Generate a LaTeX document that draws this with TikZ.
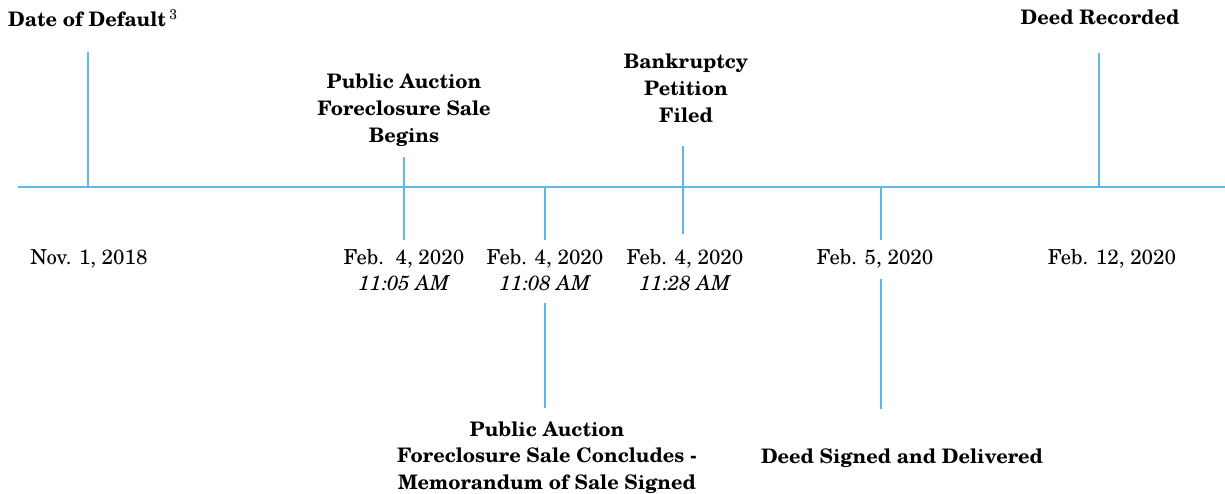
\documentclass[tikz,border=0pt]{standalone}
\usepackage{fontspec}
\setmainfont{TeX Gyre Schola}
\definecolor{tlblue}{RGB}{95,185,230}
\newcommand\tlfs{\fontsize{20}{26.7}\selectfont}
\newcommand\tldfs{\fontsize{20.6}{25}\selectfont}
\newcommand\tlstack[1]{\begin{tabular}[t]{@{}c@{}}#1\end{tabular}}
\tikzset{
  axisline/.style={draw=tlblue, line width=1.6pt},
  tickline/.style={draw=tlblue, line width=1.6pt},
  evtlabel/.style={font=\tlfs\bfseries, inner sep=0pt, anchor=base},
  datelabel/.style={font=\tldfs, inner sep=0pt, anchor=base},
}
\begin{document}
\begin{tikzpicture}[x=1pt,y=-1pt]
\useasboundingbox (0,0) rectangle (1225,494);
% axis
\coordinate (axL) at (18,187);
\coordinate (axR) at (1225,187);
\draw[axisline] (axL) -- (axR);
% tick coordinates
\coordinate (t1a) at (88,52);    \coordinate (t1b) at (88,187);
\coordinate (t2a) at (404,157);  \coordinate (t2b) at (404,240);
\coordinate (t3a) at (545,187);  \coordinate (t3b) at (545,240);
\coordinate (t3c) at (545,303);  \coordinate (t3d) at (545,408);
\coordinate (t4a) at (683,146);  \coordinate (t4b) at (683,234);
\coordinate (t5a) at (881,187);  \coordinate (t5b) at (881,240);
\coordinate (t5c) at (881,279);  \coordinate (t5d) at (881,409);
\coordinate (t6a) at (1099,53);  \coordinate (t6b) at (1099,187);
\draw[tickline] (t1a) -- (t1b);
\draw[tickline] (t2a) -- (t2b);
\draw[tickline] (t3a) -- (t3b);
\draw[tickline] (t3c) -- (t3d);
\draw[tickline] (t4a) -- (t4b);
\draw[tickline] (t5a) -- (t5b);
\draw[tickline] (t5c) -- (t5d);
\draw[tickline] (t6a) -- (t6b);
% event labels
\node[evtlabel, anchor=base west] (default) at (8,27) {Date of Default\,\textsuperscript{\mdseries 3}};
\node[evtlabel] (auctionbegin) at (404,89) {\tlstack{Public Auction\\Foreclosure Sale\\Begins}};
\node[evtlabel] (bankruptcy) at (686,69) {\tlstack{Bankruptcy\\Petition\\Filed}};
\node[evtlabel] (recorded) at (1100,25) {Deed Recorded};
\node[evtlabel] (auctionend) at (547,436) {\tlstack{Public Auction\\Foreclosure Sale Concludes -\\Memorandum of Sale Signed}};
\node[evtlabel] (deedsigned) at (902,463) {Deed Signed and Delivered};
% date labels
\node[datelabel] (d1) at (89,265) {Nov. 1, 2018};
\node[datelabel] (d2) at (404,265) {\tlstack{Feb.\ \ 4, 2020\\\itshape 11:05 AM}};
\node[datelabel] (d3) at (545,265) {\tlstack{Feb. 4, 2020\\\itshape 11:08 AM}};
\node[datelabel] (d4) at (685,265) {\tlstack{Feb. 4, 2020\\\itshape 11:28 AM}};
\node[datelabel] (d5) at (875,265) {Feb. 5, 2020};
\node[datelabel] (d6) at (1112,265) {Feb. 12, 2020};
\end{tikzpicture}
\end{document}
